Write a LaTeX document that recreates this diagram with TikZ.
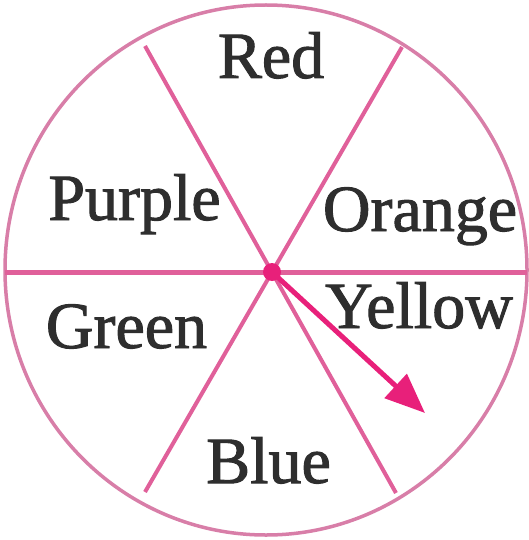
\documentclass[tikz,border=0pt]{standalone}
\usepackage{fontspec}
\setmainfont{Liberation Serif}
\newfontfamily\lblfont{Liberation Serif}[FakeBold=1.5]
\usetikzlibrary{arrows.meta}
\definecolor{spinline}{HTML}{E0609A}
\definecolor{spinrim}{HTML}{D87EA8}
\definecolor{spindeep}{HTML}{E8207A}
\definecolor{spintext}{HTML}{2E2E2E}
\tikzset{
  rim/.style={draw=spinrim, line width=3.5pt},
  divider/.style={draw=spinline, line width=5pt},
  lbl/.style={anchor=base, inner sep=0pt, text=spintext, font=\lblfont\fontsize{66}{70}\selectfont},
  pointer/.style={draw=spindeep, line width=5pt, -{Triangle[length=40pt,width=32pt]}}
}
\begin{document}
\begin{tikzpicture}[x=1pt,y=-1pt]
\useasboundingbox (0,0) rectangle (529,540);
\draw[rim] (266,270) ellipse [x radius=261, y radius=265];
\coordinate (c) at (272,272);
\coordinate (hl) at (5,272);
\coordinate (hr) at (527,272);
\coordinate (tl) at (145,46);
\coordinate (br) at (396,493);
\coordinate (tr) at (402,47);
\coordinate (bl) at (145,492);
\coordinate (tip) at (425,413);
\draw[divider] (hl) -- (hr);
\draw[divider, line width=4pt] (tl) -- (br);
\draw[divider, line width=4pt] (tr) -- (bl);
\draw[pointer] (c) -- (tip);
\fill[spindeep] (c) circle (9);
\node[lbl] (red) at (271,78) {Red};
\node[lbl] (purple) at (134.5,220) {Purple};
\node[lbl] (orange) at (420,231) {Orange};
\node[lbl] (yellow) at (419,328) {Yellow};
\node[lbl] (green) at (126.5,348) {Green};
\node[lbl] (blue) at (268.5,483) {Blue};
\end{tikzpicture}
\end{document}
